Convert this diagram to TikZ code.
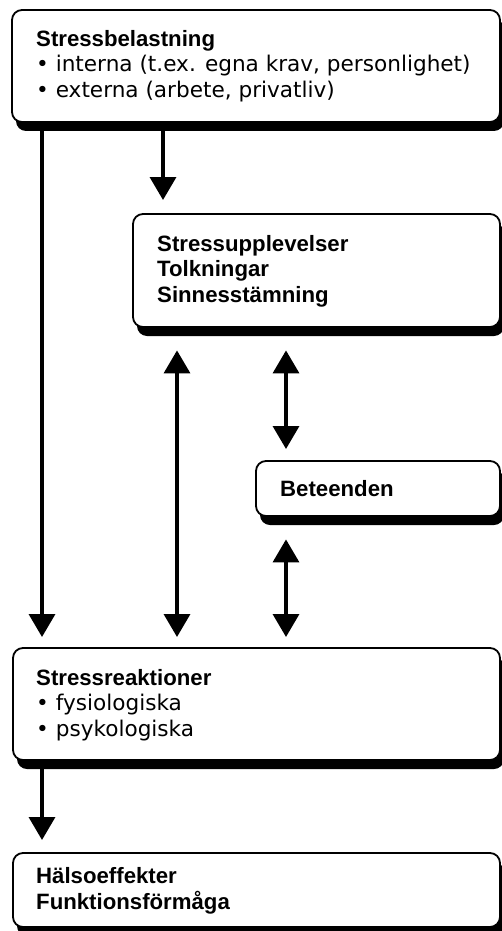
\documentclass[tikz,border=0pt]{standalone}
\usepackage{fontspec}
\setmainfont{DejaVu Sans}
\newfontfamily\headfont{Liberation Sans}
\newcommand{\hd}[1]{{\headfont\bfseries\fontsize{22.2}{25.5}\selectfont #1}}
\usetikzlibrary{arrows.meta,shadows}
\begin{document}
\begin{tikzpicture}[x=1pt,y=-1pt,
  box/.style={draw=black, line width=1.8pt, fill=white, rounded corners=10pt,
    drop shadow={shadow xshift=4pt, shadow yshift=-9pt, opacity=1, fill=black}},
  frame/.style={anchor=north west, inner sep=0pt},
  txt/.style={anchor=west, align=left, inner sep=0pt, font=\fontsize{21.6}{25.5}\selectfont},
  arr/.style={line width=3.5pt, -{Triangle[width=26pt,length=23pt]}},
  barr/.style={line width=3.5pt, {Triangle[width=26pt,length=23pt]}-{Triangle[width=26pt,length=23pt]}}
]
\useasboundingbox (0,0) rectangle (502,931);

\path[box] (12,10) rectangle (500,122);
\node[frame, minimum width=488pt, minimum height=112pt] (b1) at (12,10) {};
\node[txt] (t1) at (36,66) {\hd{Stressbelastning}\\• interna (t.ex. egna krav, personlighet)\\• externa (arbete, privatliv)};

\path[box] (133,214) rectangle (500,327);
\node[frame, minimum width=367pt, minimum height=113pt] (b2) at (133,214) {};
\node[txt] (t2) at (157,271) {\hd{Stressupplevelser}\\\hd{Tolkningar}\\\hd{Sinnesstämning}};

\path[box] (256,461) rectangle (500,516);
\node[frame, minimum width=244pt, minimum height=55pt] (b3) at (256,461) {};
\node[txt] (t3) at (280,488.5) {\hd{Beteenden}};

\path[box] (13,648) rectangle (500,760);
\node[frame, minimum width=487pt, minimum height=112pt] (b4) at (13,648) {};
\node[txt] (t4) at (36,705) {\hd{Stressreaktioner}\\• fysiologiska\\• psykologiska};

\path[box] (13,853) rectangle (500,927);
\node[frame, minimum width=487pt, minimum height=74pt] (b5) at (13,853) {};
\node[txt] (t5) at (36,891) {\hd{Hälsoeffekter}\\\hd{Funktionsförmåga}};

\coordinate (xa) at (42,0);
\coordinate (xb) at (163,0);
\coordinate (xc) at (177,0);
\coordinate (xd) at (286,0);

\draw[arr, shorten >=11pt] (b1.south -| xa) -- (b4.north -| xa);
\draw[arr, shorten >=14pt] (b1.south -| xb) -- (b2.north -| xb);
\draw[barr, shorten <=23pt, shorten >=11pt] (b2.south -| xc) -- (b4.north -| xc);
\draw[barr, shorten <=23pt, shorten >=12pt] (b2.south -| xd) -- (b3.north -| xd);
\draw[barr, shorten <=23pt, shorten >=11pt] (b3.south -| xd) -- (b4.north -| xd);
\draw[arr, shorten >=13pt] (b4.south -| xa) -- (b5.north -| xa);
\end{tikzpicture}
\end{document}
